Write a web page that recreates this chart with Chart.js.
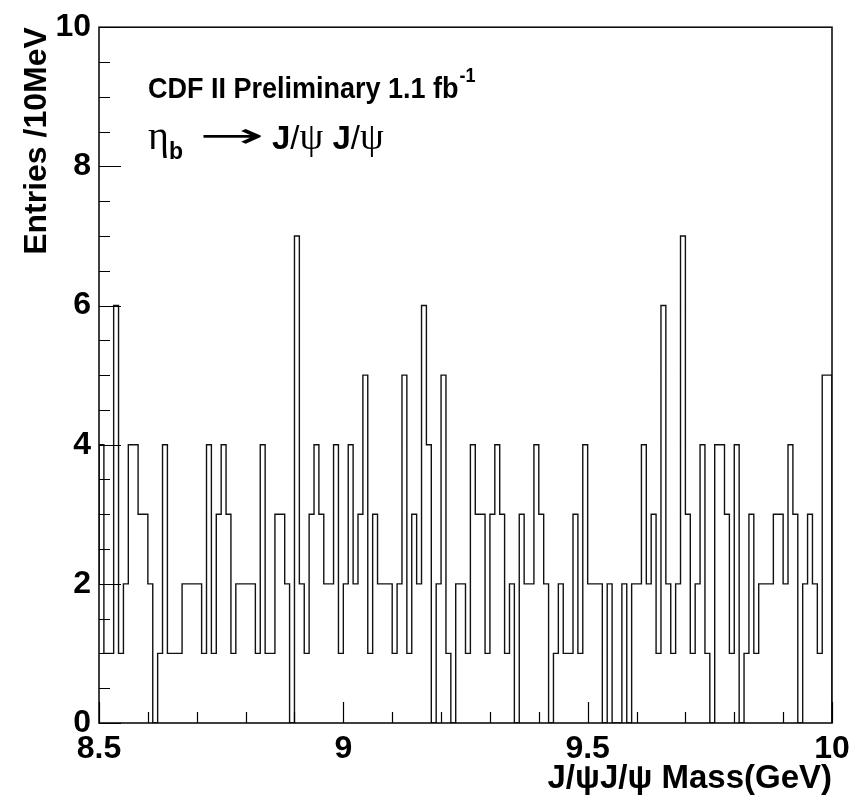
<!DOCTYPE html>
<html>
<head>
<meta charset="utf-8">
<script src="https://cdn.jsdelivr.net/npm/chart.js@4.4.0/dist/chart.umd.min.js"></script>
<style>
	html, body { margin: 0; padding: 0; background: #fff; }
</style>
</head>
<body>
<canvas id="massChart" width="868" height="801"></canvas>
<script>
// histogram: 10 MeV bins from 8.5 to 10 GeV
const binLow = 8.5;
const binWidth = 0.01;
const counts = [
	2, 4, 1, 1, 6, 1, 2, 4, 4, 3,
	3, 2, 0, 1, 4, 1, 1, 1, 2, 2,
	2, 2, 1, 4, 1, 3, 4, 3, 1, 2,
	2, 2, 2, 1, 4, 1, 1, 3, 3, 2,
	0, 7, 2, 1, 3, 4, 3, 2, 2, 4,
	1, 2, 4, 2, 3, 5, 1, 3, 2, 2,
	2, 1, 2, 5, 1, 3, 2, 6, 4, 0,
	2, 5, 1, 0, 2, 2, 1, 4, 3, 3,
	1, 3, 4, 3, 1, 2, 0, 3, 2, 2,
	4, 3, 2, 0, 1, 2, 1, 1, 3, 1,
	4, 2, 2, 2, 0, 2, 0, 0, 2, 0,
	2, 2, 4, 2, 3, 1, 6, 2, 1, 2,
	7, 3, 1, 2, 4, 1, 0, 4, 4, 3,
	1, 4, 0, 1, 3, 1, 2, 2, 2, 3,
	3, 2, 4, 3, 0, 2, 3, 2, 1, 5
];
const xTicks = [8.5, 9, 9.5, 10];
const yTicks = [0, 2, 4, 6, 8, 10];

const fontFamily = '"Liberation Sans", Arial, Helvetica, sans-serif';
const greekFamily = '"Liberation Serif", "DejaVu Serif", serif';

function histPoints() {
	const pts = counts.map((c, i) => ({ x: +(binLow + i * binWidth).toFixed(3), y: c }));
	const hi = +(binLow + counts.length * binWidth).toFixed(3);
	pts.push({ x: hi, y: counts[counts.length - 1] });
	pts.push({ x: hi, y: 0 });
	return pts;
}

// draw text squeezed horizontally, returns advance
function squeezedText(ctx, text, x, y, sx) {
	ctx.save();
	ctx.translate(x, y);
	ctx.scale(sx, 1);
	ctx.fillText(text, 0, 0);
	const w = ctx.measureText(text).width * sx;
	ctx.restore();
	return w;
}

// frame + inward ROOT style ticks + the text labels
const rootFramePlugin = {
	id: 'rootFrame',
	afterDraw(chart) {
		const { ctx, chartArea: { left, right, top, bottom } } = chart;
		const xs = chart.scales.x, ys = chart.scales.y;
		ctx.save();
		ctx.strokeStyle = '#000';
		ctx.lineWidth = 1.5;
		ctx.strokeRect(left, top, right - left, bottom - top);

		ctx.lineWidth = 1.2;
		ctx.beginPath();
		for (let k = 0; k <= 15; k++) {
			const px = Math.round(xs.getPixelForValue(8.5 + k * 0.1)) + 0.5;
			const len = (k % 5 === 0) ? 21 : 11;
			ctx.moveTo(px, bottom);
			ctx.lineTo(px, bottom - len);
		}
		for (let k = 0; k <= 20; k++) {
			const py = Math.round(ys.getPixelForValue(k * 0.5)) + 0.5;
			const len = (k % 4 === 0) ? 22 : 11;
			ctx.moveTo(left, py);
			ctx.lineTo(left + len, py);
		}
		ctx.stroke();

		// labels
		ctx.fillStyle = '#000';
		ctx.textBaseline = 'alphabetic';
		ctx.textAlign = 'left';
		let x = 148;
		ctx.font = 'bold 30px ' + fontFamily;
		x += squeezedText(ctx, 'CDF II Preliminary 1.1 fb', x, 98, 0.9) + 1;
		ctx.font = 'bold 20px ' + fontFamily;
		squeezedText(ctx, '-1', x, 82, 0.9);

		const y2 = 149;
		ctx.font = '40px ' + greekFamily;
		x = 148 + squeezedText(ctx, 'η', 148, y2, 1);
		ctx.font = 'bold 23px ' + fontFamily;
		squeezedText(ctx, 'b', x, y2 + 10, 1);
		ctx.font = '34px "DejaVu Sans", sans-serif';
		squeezedText(ctx, '\u2192', 199, y2 - 2, 2.3);
		x = 272;
		const parts = [
			['J', 'bold 33px ' + fontFamily],
			['/', '33px ' + fontFamily],
			['ψ', '38px ' + greekFamily],
			[' J', 'bold 33px ' + fontFamily],
			['/', '33px ' + fontFamily],
			['ψ', '38px ' + greekFamily]
		];
		parts.forEach(([t, f]) => {
			ctx.font = f;
			x += squeezedText(ctx, t, x, y2, 1);
		});
		ctx.restore();
	}
};

function massChartConfig() {
	const canvas = document.getElementById('massChart');
	if (!canvas) return;
	const ctx = canvas.getContext('2d');

	new Chart(ctx, {
		type: 'line',
		data: {
			datasets: [{
				label: 'Entries',
				data: histPoints(),
				stepped: 'after',
				borderColor: '#111',
				borderWidth: 1.4,
				pointRadius: 0,
				fill: false,
				tension: 0
			}]
		},
		options: {
			responsive: false,
			animation: false,
			devicePixelRatio: 1,
			layout: {
				padding: { top: 25, right: 36, left: 0, bottom: 0 }
			},
			plugins: {
				legend: { display: false },
				tooltip: { enabled: false }
			},
			scales: {
				x: {
					type: 'linear',
					min: 8.5,
					max: 10,
					afterFit: scale => { scale.height = 78; },
					afterBuildTicks: scale => { scale.ticks = xTicks.map(v => ({ value: v })); },
					grid: { display: false, drawTicks: false },
					border: { display: false },
					ticks: {
						color: '#000',
						padding: 7,
						maxRotation: 0,
						autoSkip: false,
						callback: v => String(v),
						font: { size: 32, weight: 'bold', family: fontFamily }
					},
					title: {
						display: true,
						text: 'J/ψJ/ψ Mass(GeV)',
						align: 'end',
						color: '#000',
						padding: { top: 0, bottom: 6 },
						font: { size: 33, weight: 'bold', family: fontFamily, lineHeight: 1 }
					}
				},
				y: {
					min: 0,
					max: 10,
					afterFit: scale => { scale.width = 99; },
					afterBuildTicks: scale => { scale.ticks = yTicks.map(v => ({ value: v })); },
					grid: { display: false, drawTicks: false },
					border: { display: false },
					ticks: {
						color: '#000',
						padding: 8,
						font: { size: 32, weight: 'bold', family: fontFamily }
					},
					title: {
						display: true,
						text: 'Entries /10MeV',
						align: 'end',
						color: '#000',
						padding: { top: 21, bottom: 0 },
						font: { size: 32, weight: 'bold', family: fontFamily, lineHeight: 1 }
					}
				}
			}
		},
		plugins: [rootFramePlugin]
	});
}
document.addEventListener('DOMContentLoaded', massChartConfig);
</script>
</body>
</html>
